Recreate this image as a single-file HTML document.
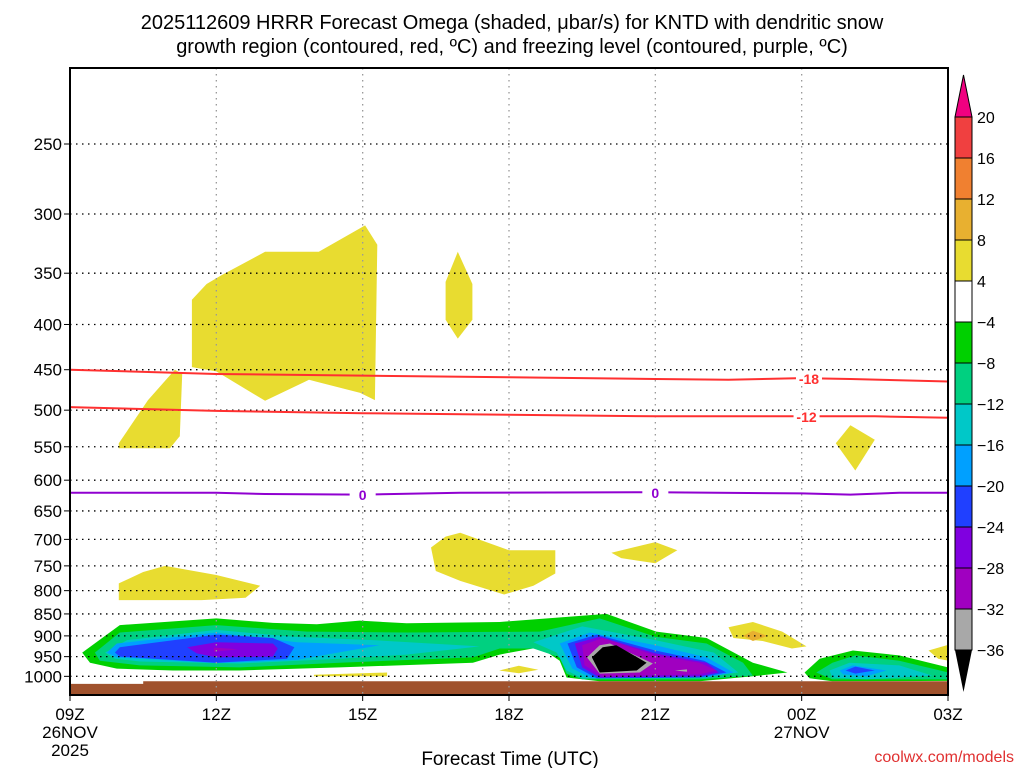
<!DOCTYPE html>
<html><head><meta charset="utf-8"><style>
body{margin:0;background:#fff}
svg text{font-family:"Liberation Sans",sans-serif}
</style></head><body>
<svg id="c" width="1024" height="768" viewBox="0 0 1024 768" xmlns="http://www.w3.org/2000/svg">
<text x="512" y="29" text-anchor="middle" font-size="20" fill="#000">2025112609 HRRR Forecast Omega (shaded, μbar/s) for KNTD with dendritic snow</text>
<text x="512" y="53" text-anchor="middle" font-size="20" fill="#000">growth region (contoured, red, ºC) and freezing level (contoured, purple, ºC)</text>
<defs><clipPath id="pc"><rect x="70" y="68" width="878" height="627"/></clipPath></defs>
<g id="plot" clip-path="url(#pc)"></g>
<g id="over"></g>
<text x="510" y="765" text-anchor="middle" font-size="19">Forecast Time (UTC)</text>
<text x="1014" y="762" text-anchor="end" font-size="16" fill="#e03030">coolwx.com/models</text>
</svg>
<script>
const pressureTicks=[250,300,350,400,450,500,550,600,650,700,750,800,850,900,950,1000];
const hourTicks=[0,3,6,9,12,15,18];
const hourLabels=["09Z","12Z","15Z","18Z","21Z","00Z","03Z"];
const cbLevels=["20","16","12","8","4","−4","−8","−12","−16","−20","−24","−28","−32","−36"];
const cbColors=["#f04040","#f08030","#e8b030","#e8dc30","#ffffff","#00d000","#00d080","#00c8c8","#00a0ff","#2040ff","#8000e0","#a000c0","#a8a8a8"];
const yellowUpper=[[2.5,447],[2.5,375],[2.8,360],[3.1,352],[4,331],[5.1,331],[6.05,309],[6.3,325],[6.25,487],[5.95,478],[4.9,462],[4,488],[3,452]];
const yellowLeft=[[1.0,545],[1.6,487],[2.15,450],[2.3,455],[2.25,535],[2.05,552],[1.0,552]];
const yellow17z=[[7.7,358],[7.95,331],[8.25,360],[8.25,395],[7.95,415],[7.7,395]];
const yellow800=[[1.0,808],[1.0,785],[1.5,762],[1.95,750],[3.0,768],[3.9,790],[3.6,815],[2.7,820],[1.0,820]];
const yellowMid=[[7.4,715],[7.7,695],[8.0,688],[9.0,720],[9.95,720],[9.95,765],[9.5,790],[8.9,808],[8.0,780],[7.5,760]];
const yellow21z=[[11.1,725],[12,705],[12.45,720],[12,745],[11.3,735]];
const yellow550=[[15.7,545],[16.0,520],[16.5,540],[16.1,585]];
const yellow00z=[[13.5,880],[14.0,868],[14.6,890],[15.1,925],[14.8,930],[14.2,912],[13.6,905]];
const orange00z=[[13.8,900],[14.0,888],[14.3,900],[14.0,912]];
const yellowRight=[[17.6,935],[18.1,918],[18.1,962],[17.8,955]];
const yellowLow1=[[5.0,996],[6.5,990],[6.5,1000],[5,1000]];
const yellowLow2=[[8.8,985],[9.2,973],[9.6,983],[9.2,992]];
const greenMain=[[0.25,940],[1.02,875],[3.0,860],[4.16,870],[5.06,873],[5.94,865],[6.9,871],[8.81,868],[11.0,850],[12.02,890],[13.05,905],[14.0,965],[14.71,990],[14.0,1000],[12.91,1013],[10.86,1013],[10.18,1003],[10.04,960],[9.63,927],[9.02,940],[8.81,945],[8.26,965],[5.53,977],[3.48,985],[2.11,985],[0.96,980],[0.41,965]];
const tealMain=[[0.51,940],[1.02,892],[3.0,875],[4.86,890],[6.9,892],[9.63,890],[10.86,860],[12.0,902],[13.05,918],[13.8,965],[14.0,998],[12.9,1008],[10.5,1008],[10.18,993],[10.04,952],[9.5,930],[8.81,930],[8.26,952],[5.53,965],[3.48,977],[1.43,972],[0.61,960]];
const cyanLeft=[[0.72,940],[1.17,910],[3.0,886],[4.57,902],[6.2,910],[8.4,925],[6.9,945],[5.53,955],[3.48,967],[1.43,962],[0.92,955]];
const cyanRight=[[9.5,915],[10.5,878],[12.0,910],[13.2,940],[13.7,990],[12.9,1003],[10.5,1005],[10.18,985],[9.98,940]];
const lblueLeft=[[0.76,940],[0.96,918],[3.0,892],[4.65,915],[6.35,922],[4.65,958],[3.0,966],[0.96,952]];
const blueLeft=[[0.92,940],[1.02,927],[3.0,897],[4.16,905],[4.6,927],[4.45,955],[3.0,965],[1.02,950]];
const purpleLeft=[[2.4,927],[3.0,915],[4.16,918],[4.26,930],[4.16,950],[3.0,952],[2.6,942]];
const magentaLeft=[[2.95,928],[3.45,932],[2.95,938]];
const lblueRight=[[10.04,918],[10.66,892],[12.0,922],[13.05,952],[13.6,990],[13.05,1003],[10.7,1005],[10.3,980]];
const blueRight=[[10.2,918],[10.8,897],[12.0,935],[13.0,960],[13.46,990],[12.9,1003],[10.8,1005],[10.39,977]];
const purpleRight=[[10.35,918],[10.86,902],[12.0,942],[13.05,965],[13.3,990],[12.9,1000],[10.86,1003],[10.5,977]];
const magentaRight=[[10.5,922],[10.92,905],[12.0,947],[12.9,965],[13.26,985],[12.9,995],[10.92,1000],[10.55,972]];
const greyRight=[[10.6,952],[10.86,922],[11.07,918],[11.95,967],[11.68,990],[10.86,993]];
const blackRight=[[10.7,952],[10.92,927],[11.2,922],[11.82,965],[11.62,985],[10.86,990]];
const greySmall=[[12.4,985],[12.65,982],[12.65,988]];
const greenFar=[[15.06,990],[15.37,955],[16.05,935],[17.0,947],[18.1,980],[18.1,1012],[15.63,1013],[15.16,1005]];
const tealFar=[[15.3,990],[15.63,965],[16.1,947],[17.0,960],[18.1,993],[18.1,1008],[15.63,1008]];
const cyanFar=[[15.57,985],[15.98,965],[17.0,972],[17.68,998],[16.33,1008],[15.63,1003]];
const lblueFar=[[15.78,985],[16.05,972],[16.74,985],[16.33,1000],[15.85,995]];
const blueFar=[[15.9,985],[16.1,975],[16.5,985],[16.1,993]];
const ground=[[0,1020],[1.5,1020],[1.5,1013],[18,1013],[18,1080],[0,1080]];
const dgz18=[[0,450],[3,455],[6,457],[9,459],[12,461],[13.5,462],[15,460],[16,461],[18,464]];
const dgz12=[[0,496],[3,501],[6,504],[9,506],[12,508],[15,508],[16.5,508],[18,510]];
const frz0=[[0,620],[3,620],[4,622],[6,623],[8,620],[12,619],[15,621],[16,623],[17,620],[18,620]];

const X=h=>70+h*878/18;
const Y=p=>144+384*Math.log(p/250);
const NS="http://www.w3.org/2000/svg";
const plot=document.getElementById('plot'), over=document.getElementById('over'), svg=document.getElementById('c');
function mk(tag,parent){const e=document.createElementNS(NS,tag);parent.appendChild(e);return e;}
function poly(pts,fill,name){
  const e=mk('polygon',plot);
  
  
  e.setAttribute('points',pts.map(q=>X(q[0]).toFixed(1)+','+Y(q[1]).toFixed(1)).join(' '));
  e.setAttribute('fill',fill);
}
const Yc="#e8dc30";
[[yellowUpper,'yellow-upper'],[yellowLeft,'yellow-left'],[yellow17z,'yellow-17z'],[yellow800,'yellow-800'],[yellowMid,'yellow-mid'],[yellow21z,'yellow-21z'],[yellow550,'yellow-550'],[yellow00z,'yellow-00z'],[yellowRight,'yellow-right'],[yellowLow1,'yellow-low1'],[yellowLow2,'yellow-low2']].forEach(a=>poly(a[0],Yc,a[1]));
poly(orange00z,"#e8b030",'orange-00z');
poly(greenMain,"#00d000",'green-main');
poly(tealMain,"#00d080",'teal-main');
poly(cyanLeft,"#00c8c8",'cyan-left');
poly(cyanRight,"#00c8c8",'cyan-right');
poly(lblueLeft,"#00a0ff",'lightblue-left');
poly(blueLeft,"#2040ff",'blue-left');
poly(purpleLeft,"#8000e0",'purple-left');
poly(magentaLeft,"#a000c0",'magenta-left');
poly(lblueRight,"#00a0ff",'lightblue-right');
poly(blueRight,"#2040ff",'blue-right');
poly(purpleRight,"#8000e0",'purple-right');
poly(magentaRight,"#a000c0",'magenta-right');
poly(greyRight,"#a8a8a8",'grey-right');
poly(blackRight,"#000000",'black-right');
poly(greySmall,"#a8a8a8",'grey-small');
poly(greenFar,"#00d000",'green-far');
poly(tealFar,"#00d080",'teal-far');
poly(cyanFar,"#00c8c8",'cyan-far');
poly(lblueFar,"#00a0ff",'lightblue-far');
poly(blueFar,"#2040ff",'blue-far');
poly(ground,"#a0522d",'ground');

// grid
pressureTicks.forEach(p=>{
  const l=mk('line',plot);
  
  
  l.setAttribute('x1',70);l.setAttribute('x2',948);l.setAttribute('y1',Y(p));l.setAttribute('y2',Y(p));
  l.setAttribute('stroke','#000');l.setAttribute('stroke-width','1.3');l.setAttribute('stroke-dasharray','1.5 4.5');
  const t=mk('line',over);
  
  
  t.setAttribute('x1',64);t.setAttribute('x2',70);t.setAttribute('y1',Y(p));t.setAttribute('y2',Y(p));t.setAttribute('stroke','#000');
  const tx=mk('text',over);
  
  
  tx.setAttribute('x',62);tx.setAttribute('y',Y(p)+6);tx.setAttribute('text-anchor','end');tx.setAttribute('font-size','17');
  tx.textContent=p;
});
hourTicks.forEach((h,i)=>{
  const l=mk('line',plot);
  
  
  l.setAttribute('x1',X(h));l.setAttribute('x2',X(h));l.setAttribute('y1',68);l.setAttribute('y2',695);
  l.setAttribute('stroke','#999');l.setAttribute('stroke-width','1.3');l.setAttribute('stroke-dasharray','1.5 4.5');
  const t=mk('line',over);
  
  
  t.setAttribute('x1',X(h));t.setAttribute('x2',X(h));t.setAttribute('y1',695);t.setAttribute('y2',701);t.setAttribute('stroke','#000');
  const tx=mk('text',over);
  
  
  tx.setAttribute('x',X(h));tx.setAttribute('y',720);tx.setAttribute('text-anchor','middle');tx.setAttribute('font-size','17');
  tx.textContent=hourLabels[i];
});
[['26NOV',0,738],['2025',0,756],['27NOV',15,738]].forEach(d=>{
  const tx=mk('text',over);
  
  
  tx.setAttribute('x',X(d[1]));tx.setAttribute('y',d[2]);tx.setAttribute('text-anchor','middle');tx.setAttribute('font-size','17');
  tx.textContent=d[0];
});
function line(pts,color,name){
  const e=mk('polyline',plot);
  
  
  e.setAttribute('points',pts.map(q=>X(q[0]).toFixed(1)+','+Y(q[1]).toFixed(1)).join(' '));
  e.setAttribute('fill','none');e.setAttribute('stroke',color);e.setAttribute('stroke-width','2');
}
line(dgz18,'#ff3030','contour-minus18');
line(dgz12,'#ff3030','contour-minus12');
line(frz0,'#9000d0','freezing-level');
function clabel(h,p,txt,color,name){
  const r=mk('rect',plot);
  
  
  r.setAttribute('x',X(h)-13);r.setAttribute('y',Y(p)-7);r.setAttribute('width',26);r.setAttribute('height',14);r.setAttribute('fill','#fff');
  const t=mk('text',plot);
  
  
  t.setAttribute('x',X(h));t.setAttribute('y',Y(p)+5);t.setAttribute('text-anchor','middle');t.setAttribute('font-size','14');t.setAttribute('font-weight','bold');t.setAttribute('fill',color);
  t.textContent=txt;
}
clabel(15.15,461,'-18','#ff3030','label-minus18');
clabel(15.1,509,'-12','#ff3030','label-minus12');
clabel(6,624,'0','#9000d0','label-zero-15z');
clabel(12,620,'0','#9000d0','label-zero-21z');
// frame
const fr=mk('rect',over);


fr.setAttribute('x',70);fr.setAttribute('y',68);fr.setAttribute('width',878);fr.setAttribute('height',627);
fr.setAttribute('fill','none');fr.setAttribute('stroke','#000');fr.setAttribute('stroke-width','2');
// colorbar
const cbTop=117, cbStep=41, cbx=955, cbw=17;
cbColors.forEach((c,i)=>{
  const r=mk('rect',over);
  
  
  r.setAttribute('x',cbx);r.setAttribute('y',cbTop+i*cbStep);r.setAttribute('width',cbw);r.setAttribute('height',cbStep);
  r.setAttribute('fill',c);r.setAttribute('stroke','#000');r.setAttribute('stroke-width','1');
});
cbLevels.forEach((s,i)=>{
  const t=mk('text',over);
  
  
  t.setAttribute('x',977);t.setAttribute('y',cbTop+i*cbStep+6);t.setAttribute('font-size','16');
  t.textContent=s;
});
const up=mk('polygon',over);


up.setAttribute('points',`${cbx},${cbTop} ${cbx+cbw},${cbTop} ${cbx+cbw/2},${cbTop-42}`);up.setAttribute('fill','#f00080');up.setAttribute('stroke','#000');
const bottom=cbTop+cbColors.length*cbStep;
const dn=mk('polygon',over);


dn.setAttribute('points',`${cbx},${bottom} ${cbx+cbw},${bottom} ${cbx+cbw/2},${bottom+42}`);dn.setAttribute('fill','#000');
</script>
</body></html>
